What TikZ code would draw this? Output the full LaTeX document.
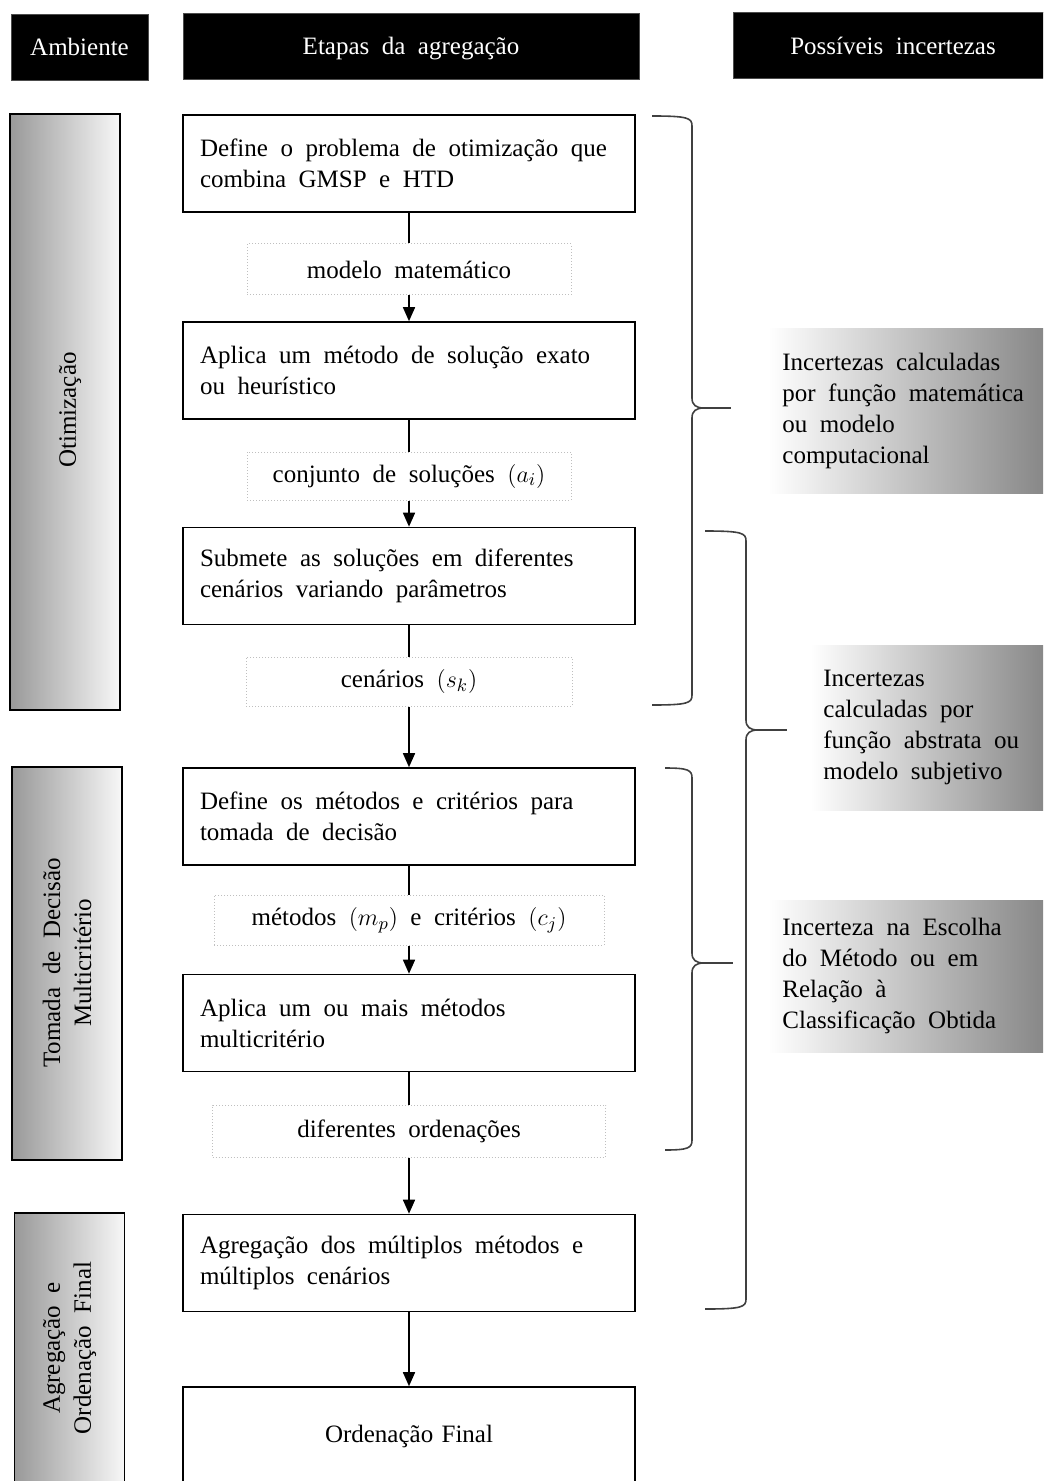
\documentclass[tikz,border=0pt]{standalone}
\usepackage{fontspec}
\setmainfont{Liberation Serif}[WordSpace={2}]
\usetikzlibrary{arrows.meta}
\newcommand\ws{\spaceskip=0.5em plus 0.1em minus 0.05em\relax}
\newcommand\uncbrace[7]{%
  \draw[brc] (#1,#3) .. controls ({#2-4},#3) and (#2,{#3+2}) .. (#2,{#3+10})
    -- (#2,{#4-10}) .. controls (#2,{#4-3}) and ({#2+4},#4) .. ({#2+12},#4)
    .. controls ({#2+4},#4) and (#2,{#4+3}) .. (#2,{#4+10})
    -- (#2,{#5-10}) .. controls (#2,{#5-2}) and ({#2-4},#5) .. (#7,#5);
  \draw[brc] ({#2+12},#4) -- (#6,#4);}
\begin{document}
\begin{tikzpicture}[x=0.5pt,y=-0.5pt,
  font=\fontsize{12.5}{15.5}\selectfont,
  hdr/.style={fill=black, draw=black!70, text=white, minimum height=33pt, inner sep=0pt,
    text height=11pt, text depth=2pt},
  stage/.style={draw, line width=0.8pt, fill=white, minimum height=48.5pt,
    text width=209pt, inner xsep=8.5pt, align=left},
  lbl/.style={draw=black!25, densely dotted, line width=0.5pt, inner sep=0pt},
  envbar/.style={draw, line width=0.8pt, left color=black!40, right color=black!3, minimum width=55pt, inner sep=0pt},
  unc/.style={left color=white, right color=black!48, inner xsep=7pt, align=left, anchor=north west},
  link/.style={line width=0.8pt},
  arr/.style={link, -{Triangle[length=7pt,width=6pt]}},
  brc/.style={line width=0.8pt, draw=black!75}]
\useasboundingbox (0,0) rectangle (1043,1481);
\clip (0,0) rectangle (1043,1481);

% headers
\node[hdr, minimum width=68.5pt] (hamb) at (79.5,47) {Ambiente};
\node[hdr, minimum width=228pt] (hetp) at (411,46) {Etapas da agregação};
\node[hdr, minimum width=160pt] (hinc) at (893,45.5) {Possíveis incertezas};

% environment bars
\node[envbar, minimum height=298pt] (eotim) at (65,412) {};
\node[rotate=90] (eotimtxt) at (70,410) {Otimização};
\node[envbar, minimum height=196.5pt] (edec) at (67,963.5) {};
\node[rotate=90, align=center] (edectxt) at (67,963) {Tomada de Decisão\\Multicritério};
\node[envbar, minimum height=135pt] (eagr) at (69.5,1348) {};
\node[rotate=90, align=center] (eagrtxt) at (69.5,1348) {Agregação e\\Ordenação Final};

% stages
\node[stage] (s1) at (409,163.5) {\ws Define o problema de otimização que\\combina GMSP e HTD};
\node[lbl, minimum width=162pt, minimum height=25.5pt] (l1) at (409,269.5) {modelo matemático};
\node[stage] (s2) at (409,370.5) {\ws Aplica um método de solução exato\\ou heurístico};
\node[lbl, minimum width=162pt, minimum height=24pt] (l2) at (409,476) {conjunto de soluções $(a_i)$};
\node[stage] (s3) at (409,576) {\ws Submete as soluções em diferentes\\cenários variando parâmetros};
\node[lbl, minimum width=163pt, minimum height=24.5pt] (l3) at (409,681.5) {cenários $(s_k)$};
\node[stage] (s4) at (409,816.5) {\ws Define os métodos e critérios para\\tomada de decisão};
\node[lbl, minimum width=195pt, minimum height=25pt] (l4) at (409,920) {métodos $(m_p)$ e critérios $(c_j)$};
\node[stage] (s5) at (409,1023) {\ws Aplica um ou mais métodos\\multicritério};
\node[lbl, minimum width=196.5pt, minimum height=26pt] (l5) at (409,1131) {diferentes ordenações};
\node[stage] (s6) at (409,1263) {\ws Agregação dos múltiplos métodos e\\múltiplos cenários};
\node[stage, minimum height=49pt, align=center] (s7) at (409,1436) {Ordenação Final};

% connectors
\draw[link] (s1) -- (l1);
\draw[arr] (l1) -- (s2);
\draw[link] (s2) -- (l2);
\draw[arr] (l2) -- (s3);
\draw[link] (s3) -- (l3);
\draw[arr] (l3) -- (s4);
\draw[link] (s4) -- (l4);
\draw[arr] (l4) -- (s5);
\draw[link] (s5) -- (l5);
\draw[arr] (l5) -- (s6);
\draw[arr] (s6) -- (s7);

% braces
\uncbrace{652}{692}{116}{408}{705}{731}{652}
\uncbrace{705}{746}{531}{730}{1309}{787}{705}
\uncbrace{665}{692}{768}{963}{1150}{733}{665}

% uncertainties
\node[unc, minimum height=82.5pt, text width=127pt] (u1) at (768,328)
  {\ws Incertezas calculadas\\por função matemática\\ou modelo\\computacional};
\node[unc, minimum height=82.5pt, text width=107pt, inner xsep=6.5pt] (u2) at (810,645)
  {\ws Incertezas\\calculadas por\\função abstrata ou\\modelo subjetivo};
\node[unc, minimum height=76pt, text width=127pt] (u3) at (768,900)
  {\ws Incerteza na Escolha\\do Método ou em\\Relação à\\Classificação Obtida};
\end{tikzpicture}
\end{document}
